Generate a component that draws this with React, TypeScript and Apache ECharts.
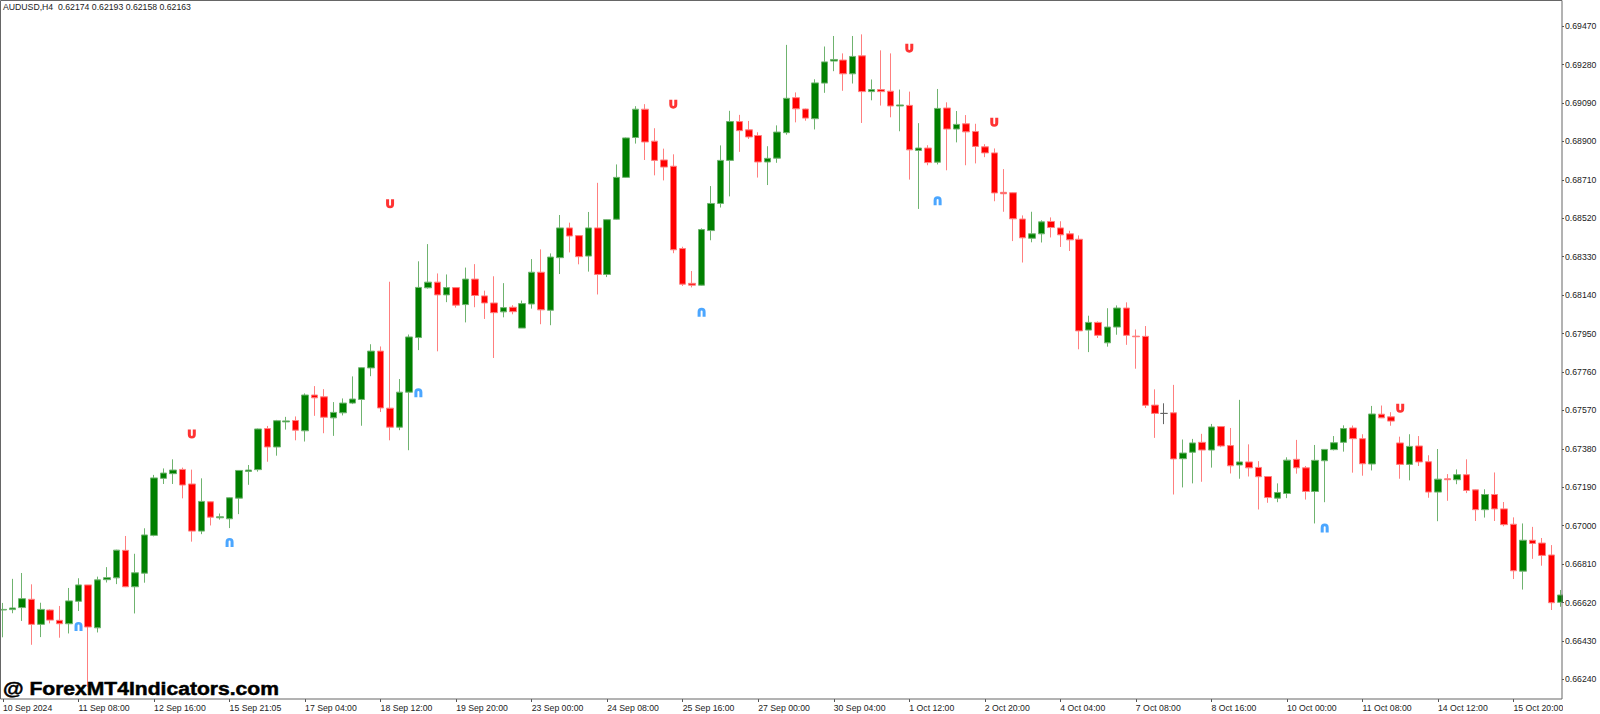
import { useEffect, useRef } from "react"
import * as echarts from "echarts"

const title = "AUDUSD,H4  0.62174 0.62193 0.62158 0.62163"
const watermark = "@ ForexMT4Indicators.com"

const xLabels = [
  "10 Sep 2024", "11 Sep 08:00", "12 Sep 16:00", "15 Sep 21:05", "17 Sep 04:00", "18 Sep 12:00", "19 Sep 20:00",
  "23 Sep 00:00", "24 Sep 08:00", "25 Sep 16:00", "27 Sep 00:00", "30 Sep 04:00", "1 Oct 12:00", "2 Oct 20:00",
  "4 Oct 04:00", "7 Oct 08:00", "8 Oct 16:00", "10 Oct 00:00", "11 Oct 08:00", "14 Oct 12:00", "15 Oct 20:00",
]

const yTicks = [
  0.6947, 0.6928, 0.6909, 0.689, 0.6871, 0.6852, 0.6833, 0.6814, 0.6795, 0.6776, 0.6757, 0.6738, 0.6719, 0.67, 0.6681,
  0.6662, 0.6643, 0.6624,
]

// prices in points (1e-5), one entry per H4 bar
const opens = [
  66583, 66585, 66595, 66636, 66512, 66583, 66532, 66515, 66626, 66707, 66495, 66733, 66742, 66878, 66698, 66765, 66952,
  67234, 67257, 67278, 67206, 66973, 67118, 67039, 67034, 67136, 67268, 67277, 67480, 67389, 67513, 67520, 67469, 67646,
  67637, 67533, 67558, 67606, 67624, 67780, 67863, 67581, 67487, 67660, 67930, 68176, 68204, 68141, 68177, 68093, 68219,
  68136, 68101, 68057, 68080, 67977, 68096, 68253, 68065, 68325, 68472, 68434, 68333, 68472, 68242, 68515, 68722, 68919,
  69059, 68901, 68808, 68777, 68370, 68198, 68189, 68459, 68593, 68806, 68998, 68957, 68929, 68798, 68817, 68943, 69116,
  69060, 69012, 69188, 69297, 69302, 69234, 69323, 69146, 69156, 69148, 69075, 69078, 68855, 68867, 68797, 69065, 68961,
  68987, 68949, 68873, 68843, 68648, 68646, 68516, 68421, 68443, 68504, 68472, 68443, 68416, 67967, 68005, 67904, 67982,
  68076, 67937, 67936, 67596, 67555, 67558, 67331, 67363, 67412, 67374, 67490, 67396, 67300, 67315, 67288, 67243, 67136,
  67159, 67328, 67286, 67169, 67321, 67376, 67412, 67483, 67430, 67305, 67551, 67538, 67409, 67303, 67394, 67316, 67166,
  67232, 67227, 67252, 67177, 67079, 67154, 67083, 67007, 66775, 66928, 66914, 66855, 66621,
]
const closes = [
  66586, 66593, 66639, 66512, 66586, 66533, 66515, 66628, 66707, 66499, 66732, 66743, 66879, 66698, 66767, 66954, 67236,
  67260, 67275, 67201, 66973, 67120, 67042, 67044, 67138, 67273, 67275, 67478, 67389, 67519, 67518, 67472, 67646, 67632,
  67536, 67560, 67606, 67626, 67781, 67863, 67582, 67487, 67660, 67933, 68178, 68204, 68141, 68177, 68090, 68219, 68138,
  68101, 68053, 68078, 68058, 68098, 68253, 68067, 68328, 68472, 68432, 68330, 68472, 68242, 68513, 68722, 68917, 69059,
  68897, 68806, 68773, 68364, 68194, 68189, 68464, 68593, 68806, 68998, 68953, 68922, 68798, 68816, 68946, 69113, 69061,
  69015, 69189, 69293, 69305, 69234, 69320, 69146, 69156, 69146, 69075, 69080, 68858, 68867, 68795, 69063, 68961, 68984,
  68947, 68875, 68843, 68645, 68641, 68517, 68423, 68443, 68502, 68474, 68438, 68413, 67963, 68005, 67941, 67982, 68076,
  67941, 67934, 67595, 67555, 67555, 67330, 67359, 67409, 67374, 67488, 67394, 67296, 67315, 67286, 67242, 67139, 67164,
  67324, 67286, 67169, 67323, 67377, 67410, 67480, 67430, 67306, 67552, 67533, 67517, 67303, 67392, 67315, 67166, 67230,
  67227, 67252, 67174, 67079, 67154, 67083, 67005, 66777, 66928, 66912, 66853, 66619, 66657,
]
const lows = [
  66448, 66567, 66529, 66411, 66449, 66517, 66446, 66467, 66578, 66203, 66472, 66719, 66711, 66696, 66566, 66718, 66947,
  67206, 67206, 67135, 66921, 66958, 67001, 67030, 66988, 67057, 67202, 67267, 67316, 67346, 67475, 67422, 67416, 67543,
  67457, 67444, 67545, 67601, 67494, 67739, 67562, 67422, 67472, 67373, 67868, 68172, 67862, 68105, 68078, 68005, 68080,
  68022, 67829, 68030, 68045, 67977, 68073, 67996, 67991, 68244, 68351, 68292, 68256, 68143, 68229, 68512, 68720, 68889,
  68808, 68732, 68707, 68347, 68185, 68178, 68187, 68411, 68573, 68628, 68848, 68912, 68721, 68684, 68794, 68933, 68994,
  69002, 68959, 69140, 69247, 69150, 69186, 68991, 69103, 69077, 69019, 68950, 68711, 68566, 68782, 68786, 68757, 68895,
  68782, 68791, 68822, 68604, 68552, 68407, 68301, 68401, 68400, 68425, 68378, 68358, 67872, 67858, 67928, 67885, 67944,
  67894, 67776, 67582, 67434, 67502, 67154, 67189, 67209, 67217, 67287, 67388, 67258, 67232, 67243, 67080, 67113, 67116,
  67136, 67257, 67129, 67011, 67116, 67372, 67366, 67262, 67247, 67273, 67532, 67494, 67232, 67224, 67295, 67138, 67022,
  67123, 67205, 67161, 67023, 67040, 67023, 66997, 66736, 66684, 66836, 66802, 66583, 66599,
]
const highs = [
  66618, 66737, 66766, 66710, 66619, 66586, 66603, 66692, 66740, 66707, 66748, 66795, 66881, 66949, 66861, 66987, 67251,
  67283, 67328, 67287, 67277, 67234, 67120, 67060, 67140, 67275, 67300, 67480, 67493, 67523, 67538, 67540, 67654, 67690,
  67675, 67611, 67629, 67738, 67783, 67897, 67886, 68206, 67725, 67945, 68307, 68392, 68247, 68242, 68179, 68276, 68293,
  68162, 68233, 68199, 68090, 68113, 68318, 68366, 68346, 68536, 68498, 68436, 68551, 68695, 68515, 68786, 68919, 69074,
  69084, 68965, 68864, 68836, 68379, 68259, 68470, 68679, 68880, 69051, 69031, 69001, 68945, 68876, 68979, 69377, 69142,
  69062, 69207, 69369, 69421, 69335, 69421, 69429, 69206, 69350, 69335, 69156, 69146, 68990, 68881, 69159, 69093, 69050,
  69030, 68987, 68886, 68865, 68763, 68648, 68534, 68552, 68510, 68524, 68505, 68458, 68435, 68038, 68010, 68075, 68089,
  68104, 67970, 67987, 67674, 67605, 67696, 67426, 67429, 67454, 67503, 67492, 67483, 67622, 67402, 67319, 67245, 67209,
  67338, 67424, 67295, 67399, 67379, 67443, 67496, 67495, 67452, 67592, 67594, 67561, 67440, 67452, 67443, 67348, 67379,
  67255, 67278, 67328, 67179, 67180, 67263, 67117, 67041, 67011, 66994, 66939, 66904, 66682,
]

// arrow signals: bar index and price in points
const sellBars = [20, 41, 71, 96, 105, 148]
const sellPrices = [67453, 68591, 69084, 69361, 68994, 67580]
const buyBars = [8, 24, 44, 74, 99, 140]
const buyPrices = [66502, 66917, 67657, 68055, 68606, 66988]

const horseshoeDown = "path://M0 0L3.4 0L3.4 6A1.1 1.1 0 0 0 5.6 6L5.6 0L9 0L9 5.5A4.5 4.5 0 0 1 0 5.5Z"
const horseshoeUp = "path://M0 10L3.4 10L3.4 4A1.1 1.1 0 0 1 5.6 4L5.6 10L9 10L9 4.5A4.5 4.5 0 0 0 0 4.5Z"

const labelFont = "Liberation Sans"

export default function App() {
  const chartRef = useRef<HTMLDivElement>(null)

  useEffect(() => {
    if (!chartRef.current) return
    const chart = echarts.init(chartRef.current, null, { renderer: "svg" })

    const categories = opens.map((_, i) => (i % 8 === 0 ? xLabels[i / 8] : ""))
    const candles = opens.map((o, i) => [o / 1e5, closes[i] / 1e5, lows[i] / 1e5, highs[i] / 1e5])
    const everyEighth = (i: number) => i % 8 === 0

    chart.setOption({
      animation: false,
      backgroundColor: "#ffffff",
      grid: { left: 0.6, top: 1, width: 1560.1, height: 698 },
      xAxis: {
        type: "category",
        data: categories,
        boundaryGap: false,
        axisLine: { show: false },
        axisTick: { show: true, interval: everyEighth, length: 3, lineStyle: { color: "#555555" } },
        axisLabel: {
          show: true,
          interval: everyEighth,
          align: "left",
          margin: 4,
          color: "#222222",
          fontFamily: labelFont,
          fontSize: 8.7,
        },
        splitLine: { show: false },
      },
      yAxis: {
        type: "value",
        position: "right",
        offset: 1.3,
        min: 0.66143,
        max: 0.69594,
        z: 5,
        axisLine: { show: false },
        axisTick: { show: true, length: 2, customValues: yTicks, lineStyle: { color: "#555555" } },
        axisLabel: {
          show: true,
          margin: 3,
          customValues: yTicks,
          formatter: (v: number) => v.toFixed(5),
          color: "#222222",
          fontFamily: labelFont,
          fontSize: 8.7,
        },
        splitLine: { show: false },
      },
      series: [
        {
          type: "candlestick",
          data: candles,
          barWidth: 7,
          clip: false,
          itemStyle: {
            color: "#008000",
            color0: "#ff0000",
            borderColor: "#6fb36f",
            borderColor0: "#ff7f7f",
            borderColorDoji: "#666666",
            borderWidth: 1,
          },
        },
        {
          type: "scatter",
          data: sellBars.map((b, i) => [b, sellPrices[i] / 1e5]),
          symbol: horseshoeDown,
          symbolSize: [8, 9],
          itemStyle: { color: "#ff0000" },
          z: 3,
        },
        {
          type: "scatter",
          data: buyBars.map((b, i) => [b, buyPrices[i] / 1e5]),
          symbol: horseshoeUp,
          symbolSize: [8, 9],
          itemStyle: { color: "#1e90ff" },
          z: 3,
        },
      ],
      graphic: [
        { type: "rect", z: 3, shape: { x: 1563, y: 0, width: 37, height: 714 }, style: { fill: "#ffffff" } },
        {
          type: "rect",
          z: 4,
          shape: { x: 0.5, y: 0.5, width: 1561.5, height: 698.5 },
          style: { fill: "none", stroke: "#666666", lineWidth: 1 },
        },
        {
          type: "text",
          z: 4,
          x: 3,
          y: 2,
          style: { text: title, fill: "#222222", font: '8.7px "Liberation Sans"' },
        },
        {
          type: "text",
          z: 4,
          x: 3,
          y: 679,
          scaleX: 1.11,
          style: {
            text: watermark,
            fill: "#000000",
            stroke: "#000000",
            lineWidth: 0.5,
            font: 'bold 19px "Liberation Sans"',
          },
        },
      ],
    })

    return () => {
      chart.dispose()
    }
  }, [])

  return <div ref={chartRef} style={{ position: "absolute", left: 0, top: 0, width: 1600, height: 714 }} />
}
